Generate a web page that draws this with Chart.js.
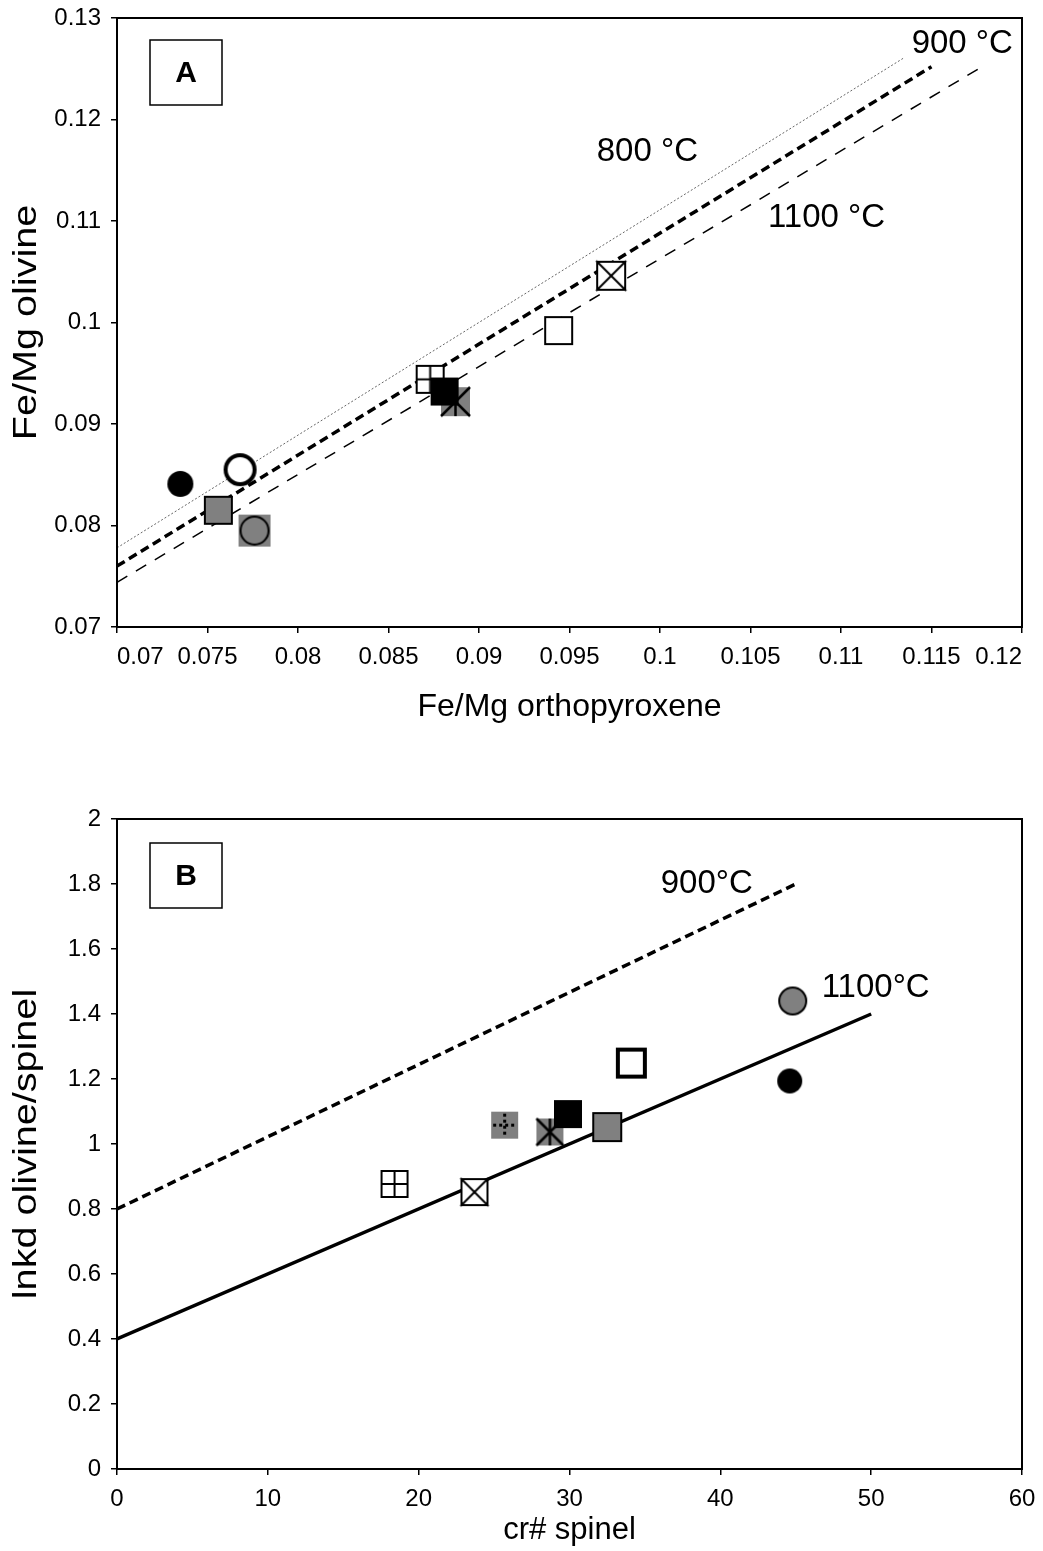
<!DOCTYPE html>
<html lang="en">
<head>
<meta charset="UTF-8">
<style>
    * { margin: 0; padding: 0; box-sizing: border-box; }
    body {
        background: #fff;
        width: 1043px;
        height: 1551px;
        position: relative;
        overflow: hidden;
        font-family: "Liberation Sans", Arial, sans-serif;
    }
    .panel { position: absolute; left: 0; width: 1043px; }
    #panelA { top: 0; height: 760px; }
    #panelB { top: 760px; height: 791px; }
</style>
</head>
<body>
<div class="panel" id="panelA"><canvas id="chartA"></canvas></div>
<div class="panel" id="panelB"><canvas id="chartB"></canvas></div>

<script src="https://cdn.jsdelivr.net/npm/chart.js"></script>
<script>
// ---- panel A: Fe/Mg olivine vs Fe/Mg orthopyroxene
const opxA     = [0.0735, 0.0768, 0.0756, 0.0776, 0.0873, 0.0887, 0.0881, 0.0944, 0.0973];
const olA      = [0.0841, 0.0855, 0.0815, 0.0795, 0.0944, 0.0922, 0.0932, 0.0992, 0.1046];
const symbolsA = ['blackCircle', 'openCircle', 'graySquare', 'grayCircleSq', 'plusSquare',
                  'grayStar', 'blackSquare', 'openSquare', 'crossSquare'];
const iso800X  = [0.07, 0.1135];  const iso800Y  = [0.0778, 0.1261];
const iso900X  = [0.07, 0.115];   const iso900Y  = [0.0760, 0.1252];
const iso1100X = [0.07, 0.1177];  const iso1100Y = [0.0744, 0.1251];
const labelsA  = ['800 °C', '900 °C', '1100 °C'];
const labelAX  = [0.0993, 0.1167, 0.1092];
const labelAY  = [0.1168, 0.1274, 0.1103];

// ---- panel B: lnKd olivine/spinel vs cr# spinel
const crB      = [18.4, 23.7, 25.7, 28.7, 29.9, 32.5, 34.1, 44.8, 44.6];
const kdB      = [0.877, 0.852, 1.058, 1.037, 1.092, 1.052, 1.249, 1.44, 1.194];
const symbolsB = ['plusSquare', 'crossSquare', 'grayDotPlus', 'grayStar', 'blackSquare',
                  'graySquare', 'openSquareThick', 'grayCircle', 'blackCircle'];
const isoB900X  = [0, 45];  const isoB900Y  = [0.8, 1.8];
const isoB1100X = [0, 50];  const isoB1100Y = [0.4, 1.4];
const labelsB  = ['900°C', '1100°C'];
const labelBX  = [39.1, 50.3];
const labelBY  = [1.80, 1.48];

const GRAY = '#808080';
const FONT = '"Liberation Sans", Arial, sans-serif';

// build a small canvas for every symbol kind
function makeSymbol(kind, s) {
    const m = 6;
    const c = document.createElement('canvas');
    c.width = s + 2 * m; c.height = s + 2 * m;
    const g = c.getContext('2d');
    const x0 = m, y0 = m, cx = m + s / 2, cy = m + s / 2;
    g.strokeStyle = '#000';
    g.lineWidth = 2;
    const square = (fill, lw) => {
        g.fillStyle = fill;
        g.fillRect(x0, y0, s, s);
        if (lw) { g.lineWidth = lw; g.strokeRect(x0 + lw / 2, y0 + lw / 2, s - lw, s - lw); }
    };
    const circle = (r, fill, lw) => {
        g.beginPath(); g.arc(cx, cy, r, 0, Math.PI * 2);
        g.fillStyle = fill; g.fill();
        if (lw) { g.lineWidth = lw; g.stroke(); }
    };
    const seg = (a, b, c2, d) => { g.beginPath(); g.moveTo(a, b); g.lineTo(c2, d); g.stroke(); };
    switch (kind) {
        case 'blackCircle': circle(s / 2 - 1, '#000', 0); break;
        case 'openCircle': circle(s / 2 - 1, '#fff', 4); break;
        case 'grayCircle': circle(s / 2 - 1, GRAY, 2); break;
        case 'graySquare': square(GRAY, 2); break;
        case 'blackSquare': square('#000', 0); break;
        case 'openSquare': square('#fff', 2); break;
        case 'openSquareThick': square('#fff', 4); break;
        case 'grayCircleSq':
            square(GRAY, 0);
            circle(s / 2 - 2, GRAY, 2);
            break;
        case 'plusSquare':
            square('#fff', 2);
            g.lineWidth = 2;
            seg(cx, y0, cx, y0 + s); seg(x0, cy, x0 + s, cy);
            break;
        case 'crossSquare':
            square('#fff', 2);
            g.lineWidth = 2;
            seg(x0, y0, x0 + s, y0 + s); seg(x0 + s, y0, x0, y0 + s);
            break;
        case 'grayStar':
            square(GRAY, 0);
            g.lineWidth = 2.5;
            seg(x0, y0, x0 + s, y0 + s); seg(x0 + s, y0, x0, y0 + s); seg(cx, y0, cx, y0 + s);
            break;
        case 'grayDotPlus':
            square(GRAY, 0);
            g.lineWidth = 3;
            g.setLineDash([3, 3]);
            seg(cx, y0 + 2, cx, y0 + s - 2); seg(x0 + 2, cy, x0 + s - 2, cy);
            g.setLineDash([]);
            break;
    }
    return c;
}

function pairs(xs, ys) { return xs.map((x, i) => ({ x: x, y: ys[i] })); }

function lineSet(xs, ys, width, dash, color) {
    return {
        data: pairs(xs, ys), showLine: true, pointRadius: 0, order: 1,
        borderColor: color || '#000', borderWidth: width, borderDash: dash, fill: false
    };
}

function fmt(v) { return String(parseFloat(v.toFixed(4))); }

// frame, panel letter box, y title and isotherm labels
function decorPlugin(letter, yTitle, texts, tx, ty, boxTop) {
    return {
        id: 'decor' + letter,
        afterDraw(chart) {
            const { ctx, chartArea: a, scales } = chart;
            ctx.save();
            ctx.strokeStyle = '#000';
            ctx.lineWidth = 2;
            ctx.strokeRect(a.left, a.top, a.right - a.left, a.bottom - a.top);
            // letter box
            const bx = a.left + 33, by = a.top + boxTop, bw = 72, bh = 65;
            ctx.fillStyle = '#fff';
            ctx.fillRect(bx, by, bw, bh);
            ctx.lineWidth = 1.5;
            ctx.strokeRect(bx, by, bw, bh);
            ctx.fillStyle = '#000';
            ctx.font = 'bold 30px ' + FONT;
            ctx.textAlign = 'center';
            ctx.textBaseline = 'middle';
            ctx.fillText(letter, bx + bw / 2, by + bh / 2 + 1);
            // isotherm labels
            ctx.font = '33px ' + FONT;
            texts.forEach((t, i) => {
                ctx.fillText(t, scales.x.getPixelForValue(tx[i]), scales.y.getPixelForValue(ty[i]));
            });
            // vertical axis title, a bit stretched along its length like the source
            ctx.save();
            ctx.translate(27, (a.top + a.bottom) / 2);
            ctx.rotate(-Math.PI / 2);
            ctx.scale(1.2, 1);
            ctx.font = '33px ' + FONT;
            ctx.fillText(yTitle, 0, 0);
            ctx.restore();
            ctx.restore();
        }
    };
}

function axis(min, max, step, title, titleSize, titlePad, align, fit) {
    return {
        type: 'linear', min: min, max: max,
        ticks: {
            stepSize: step, color: '#000', padding: 10, align: align,
            font: { family: FONT, size: 24 },
            callback: v => fmt(v)
        },
        grid: { drawOnChartArea: false, drawTicks: true, tickLength: 6, color: '#000', lineWidth: 1.5 },
        border: { display: true, color: '#000', width: 2 },
        title: { display: !!title, text: title, color: '#000', font: { family: FONT, size: titleSize }, padding: titlePad },
        afterFit: fit
    };
}

function buildChart(id, xs, ys, symbols, sizes, lines, xAxis, yAxis, pad, plugin) {
    return new Chart(document.getElementById(id), {
        type: 'scatter',
        data: {
            datasets: [{
                data: pairs(xs, ys), order: 0,
                pointStyle: symbols.map((k, i) => makeSymbol(k, sizes[i])),
                pointRadius: 14, pointHoverRadius: 14
            }].concat(lines)
        },
        options: {
            responsive: true,
            maintainAspectRatio: false,
            animation: false,
            layout: { padding: pad },
            plugins: { legend: { display: false }, tooltip: { enabled: false } },
            scales: { x: xAxis, y: yAxis }
        },
        plugins: [plugin]
    });
}

const sizesA = [28, 31, 29, 32, 29, 29, 28, 29, 30];
const sizesB = [28, 28, 27, 27, 28, 30, 31, 29, 27];

buildChart('chartA', opxA, olA, symbolsA, sizesA, [
        lineSet(iso800X, iso800Y, 1, [2, 2], '#666'),
        lineSet(iso900X, iso900Y, 3.5, [9, 5]),
        lineSet(iso1100X, iso1100Y, 1.5, [12, 10])
    ],
    axis(0.07, 0.12, 0.005, 'Fe/Mg orthopyroxene', 32, { top: 0, bottom: 34 }, 'inner',
        s => { s.height = 133; s.paddingLeft = 0; s.paddingRight = 0; }),
    axis(0.07, 0.13, 0.01, '', 30, 0, 'center',
        s => { s.width = 117; s.paddingTop = 0; s.paddingBottom = 0; }),
    { top: 18, right: 21, left: 0, bottom: 0 },
    decorPlugin('A', 'Fe/Mg olivine', labelsA, labelAX, labelAY, 22));

buildChart('chartB', crB, kdB, symbolsB, sizesB, [
        lineSet(isoB900X, isoB900Y, 3.5, [9, 5]),
        lineSet(isoB1100X, isoB1100Y, 3.5, [])
    ],
    axis(0, 60, 10, 'cr# spinel', 31, { top: 0, bottom: 2 }, 'center',
        s => { s.height = 82; s.paddingLeft = 0; s.paddingRight = 0; }),
    axis(0, 2, 0.2, '', 30, 0, 'center',
        s => { s.width = 117; s.paddingTop = 0; s.paddingBottom = 0; }),
    { top: 59, right: 21, left: 0, bottom: 0 },
    decorPlugin('B', 'lnkd olivine/spinel', labelsB, labelBX, labelBY, 24));
</script>
</body>
</html>
